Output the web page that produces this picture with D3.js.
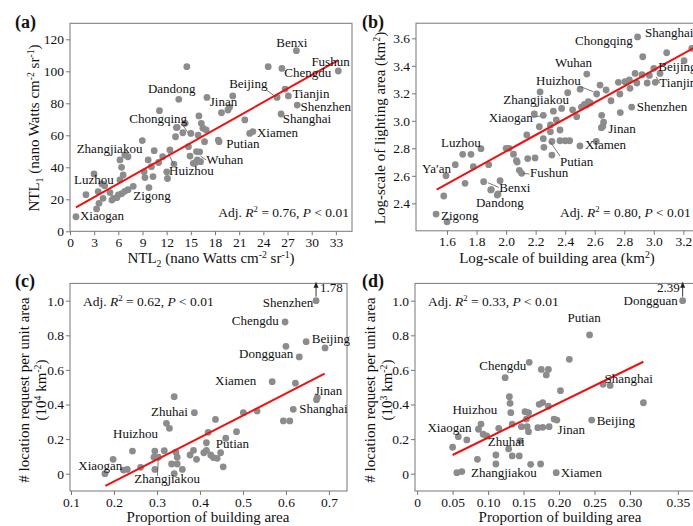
<!DOCTYPE html>
<html>
<head>
<meta charset="utf-8">
<script src="https://cdn.jsdelivr.net/npm/d3@7"></script>
<style>
  body { margin: 0; background: #fff; }
  svg text { font-family: "Liberation Serif", "Times New Roman", serif; fill: #111; }
</style>
</head>
<body>
<svg id="chart" width="693" height="526"></svg>
<script>
// ---------- (a) NTL2 vs NTL1 ----------
var ntl2 = [0.74,1.98,2.98,3.5,3.6,3.3,3.97,4.1,4.3,4.96,5.4,6.0,6.2,6.4,6.2,6.6,6.8,7.2,6.8,7.2,7.85,5.2,5.8,6.4,
  8.97,9.2,9.3,9.7,9.8,10.1,10.3,10.45,11.1,11.5,12.0,12.1,12.4,13.1,13.3,13.5,14.0,14.3,14.5,14.7,15.0,15.3,15.6,15.8,
  15.9,16.0,16.1,16.3,16.5,16.7,16.9,17.0,18.4,18.8,19.6,19.8,20.2,21.7,22.3,22.7,24.6,25.7,26.2,26.3,26.7,27.1,28.1,28.2,
  33.3,14.9,15.7,16.2,13.2,18.5,11.0,12.9];
var ntl1 = [9.1,22.9,35.8,24.8,17.5,14.0,29.6,20.6,28.4,24.2,20.6,22.7,32.1,40.0,44.6,35.2,47.7,46.6,25.0,26.0,28.1,19.5,21.0,23.5,
  56.7,37.2,33.6,44.6,27.3,40.4,34.2,50.4,75.4,46.6,37.2,33.0,50.8,59.1,65.0,82.5,61.6,67.5,102.9,52.9,61.2,42.5,43.0,44.6,
  60.1,72.1,49.7,67.5,64.4,56.0,63.3,83.7,57.0,74.1,75.8,77.5,84.6,69.6,61.2,62.3,102.9,83.7,73.3,101.8,88.9,84.6,112.9,78.9,
  100.2,47.0,49.8,43.5,64.8,56.0,43.0,42.0];
var fitA = [[0.74, 15], [33.3, 107]];
var labelsA = [["Benxi",25.6,115.4],["Fushun",29.96,103.3],["Chengdu",26.6,96.4],["Beijing",19.75,89.4],["Tianjin",27.6,83.5],
  ["Shenzhen",28.6,75.2],["Shanghai",26.4,67.9],["Xiamen",23.2,58.75],["Putian",19.4,51.9],["Wuhan",16.9,42.1],
  ["Huizhou",12.3,35.2],["Jinan",17.35,78.3],["Dandong",9.67,86.4],["Chongqing",7.35,67.5],["Zhangjiakou",0.83,49.1],
  ["Luzhou",0.5,29.6],["Zigong",7.85,19.6],["Xiaogan",1.24,7.1]];
var leadersA = [[24.4,88.3,25.5,84.1],[14.0,66.3,14.7,61.3],[12.9,41.4,12.2,48.7],[16.2,47.0,16.9,44.6]];
var xTicksA = d3.range(0, 34, 3);
var yTicksA = d3.range(0, 121, 20);

// ---------- (b) log building area vs log lighting area ----------
var buildB = [2.89,2.925,3.087,3.257,3.205,3.00,2.873,2.92,2.97,3.042,3.01,2.955,2.885,2.839,2.835,2.805,2.76,2.677,2.636,2.613,
  2.546,2.501,2.417,2.23,2.77,2.71,2.556,2.545,2.53,2.57,2.51,2.478,2.45,2.376,2.32,2.34,2.30,2.365,2.252,2.191,2.225,2.30,
  2.14,2.252,2.256,2.31,2.31,2.365,2.40,2.43,2.50,2.647,2.66,2.655,2.645,2.61,2.773,2.85,2.0,2.02,2.07,2.146,2.196,2.105,
  1.959,1.94,1.90,1.526,1.60,1.578,1.593,1.656,1.706,1.762,1.722,1.778,1.83,1.848,1.882,1.896,1.945,2.05,2.075,2.09];
var lightB = [3.61,3.466,3.495,3.527,3.437,3.382,3.345,3.335,3.33,3.345,3.28,3.275,3.275,3.236,3.297,3.285,3.28,3.224,3.26,3.195,
  3.34,3.23,3.204,3.21,3.195,3.146,3.14,3.115,3.12,3.13,3.10,3.03,3.08,3.09,3.07,3.006,2.97,2.933,3.04,3.05,2.957,2.92,
  2.897,2.87,2.807,2.85,2.751,2.855,2.855,2.855,2.817,3.04,2.99,2.96,2.95,2.85,3.06,3.10,2.8,2.8,2.71,2.725,2.73,2.618,
  2.564,2.46,2.5,2.322,2.266,2.453,2.6,2.681,2.756,2.756,2.545,2.666,2.797,2.557,2.681,2.497,2.468,2.757,2.70,2.64];
var fitB = [[1.53, 2.50], [3.27, 3.53]];
var labelsB = [["Shanghai",2.94,3.607],["Chongqing",2.467,3.551],["Wuhan",2.331,3.389],["Huizhou",2.203,3.26],["Beijing",3.03,3.364],
  ["Tianjin",3.037,3.244],["Zhangjiakou",1.981,3.122],["Xiaogan",1.882,2.993],["Shenzhen",2.884,3.073],["Jinan",2.692,2.913],
  ["Xiamen",2.534,2.793],["Putian",2.365,2.671],["Fushun",2.162,2.593],["Benxi",1.954,2.484],["Dandong",1.796,2.373],
  ["Luzhou",1.559,2.812],["Ya\u2032an",1.431,2.623],["Zigong",1.559,2.279]];
var leadersB = [[2.505,3.248,2.59,3.212],[3.015,3.32,3.042,3.273],[2.18,3.025,2.23,3.035],[2.365,2.744,2.297,2.848],
  [2.117,2.618,2.157,2.613],[1.876,2.55,1.95,2.516]];
var xTicksB = [1.6,1.8,2.0,2.2,2.4,2.6,2.8,3.0,3.2];
var yTicksB = [2.4,2.6,2.8,3.0,3.2,3.4,3.6];

// ---------- (c) proportion of building area vs location requests ----------
var propC = [0.179,0.198,0.222,0.231,0.262,0.243,0.295,0.293,0.303,0.295,0.317,0.322,0.329,0.34,0.334,0.344,0.347,0.359,0.347,0.34,
  0.377,0.385,0.392,0.387,0.415,0.419,0.409,0.415,0.425,0.431,0.436,0.44,0.448,0.454,0.46,0.485,0.501,0.533,0.568,0.594,
  0.609,0.617,0.622,0.67,0.598,0.647,0.691,0.60,0.631,0.671,0.673];
var reqC = [0.0,0.083,0.021,0.025,0.037,0.131,0.131,0.095,0.095,0.025,0.133,0.291,0.262,0.445,0.056,0.124,0.095,0.025,0.056,0.0,
  0.108,0.135,0.083,0.353,0.179,0.239,0.121,0.135,0.108,0.093,0.314,0.089,0.121,0.04,0.205,0.243,0.353,0.362,0.532,0.305,
  0.305,0.372,0.523,1.0,0.877,0.763,0.727,0.736,0.675,0.428,0.44];
var fitC = [[0.18, -0.07], [0.69, 0.578]];
var labelsC = [["Shenzhen",0.546,0.964],["Chengdu",0.474,0.861],["Beijing",0.66,0.755],["Dongguan",0.491,0.669],["Xiamen",0.435,0.514],
  ["Jinan",0.667,0.457],["Shanghai",0.631,0.351],["Putian",0.437,0.149],["Zhuhai",0.286,0.334],["Huizhou",0.198,0.205],
  ["Xiaogan",0.117,0.021],["Zhangjiakou",0.247,-0.052]];
var leadersC = [[0.301,-0.013,0.303,0.089]];
var outlierC = {x: 0.67, y: 1.0, text: "1.78"};
var xTicksC = [0.1,0.2,0.3,0.4,0.5,0.6,0.7];
var yTicksCD = [0,0.2,0.4,0.6,0.8,1.0];

// ---------- (d) proportion of building area vs location requests ----------
var propD = [0.243,0.2145,0.158,0.175,0.185,0.182,0.124,0.202,0.262,0.272,0.314,0.13,0.131,0.132,0.172,0.177,0.185,0.152,0.157,
  0.193,0.197,0.246,0.154,0.134,0.147,0.155,0.157,0.17,0.177,0.186,0.115,0.09,0.0864,0.093,0.098,0.058,0.07,0.05,0.129,0.145,
  0.085,0.111,0.111,0.134,0.144,0.056,0.063,0.16,0.174,0.196,0.355];
var reqD = [0.802,0.661,0.644,0.603,0.603,0.571,0.555,0.48,0.517,0.51,0.41,0.445,0.407,0.353,0.401,0.411,0.39,0.358,0.353,
  0.316,0.31,0.31,0.316,0.287,0.272,0.272,0.243,0.266,0.268,0.272,0.262,0.287,0.257,0.228,0.218,0.214,0.195,0.153,0.143,0.19,
  0.083,0.108,0.056,0.103,0.103,0.006,0.012,0.054,0.056,0.006,1.0];
var fitD = [[0.05, 0.108], [0.314, 0.647]];
var labelsD = [["Dongguan",0.291,0.975],["Putian",0.212,0.875],["Chengdu",0.0877,0.599],["Shanghai",0.264,0.526],["Huizhou",0.0497,0.345],
  ["Beijing",0.253,0.282],["Xiaogan",0.0145,0.241],["Jinan",0.198,0.229],["Zhuhai",0.0996,0.16],["Zhangjiakou",0.076,-0.017],
  ["Xiamen",0.2024,-0.017]];
var outlierD = {x: 0.355, y: 1.0, text: "2.39"};
var xTicksD = [0,0.05,0.10,0.15,0.20,0.25,0.30,0.35];

var svg = d3.select("#chart");
var dotColor = "#8c8c8c", lineColor = "#ee1111", frameColor = "#777";

// text with sub/superscripts: parts = [[text, shift(px, negative = up), italic]]
function rich(sel, parts, size) {
  var cur = 0;
  parts.forEach(function(p) {
    var shift = p[1] || 0;
    sel.append("tspan")
      .attr("dy", shift - cur)
      .style("font-size", shift ? (size * 0.65) + "px" : size + "px")
      .style("font-style", p[2] ? "italic" : null)
      .text(p[0]);
    cur = shift;
  });
}

function panel(o) {
  var g = svg.append("g");
  var x = d3.scaleLinear().domain(o.xDomain).range(o.xRange);
  var y = d3.scaleLinear().domain(o.yDomain).range(o.yRange);
  var x0 = o.xRange[0], x1 = o.xRange[o.xRange.length - 1];

  g.append("rect")
    .attr("x", x0).attr("y", o.yRange[1])
    .attr("width", x1 - x0).attr("height", o.yRange[0] - o.yRange[1])
    .attr("fill", "none").attr("stroke", frameColor).attr("stroke-width", 1);

  var xa = g.append("g").attr("transform", "translate(0," + o.yRange[0] + ")")
    .call(d3.axisBottom(x).tickValues(o.xTicks).tickFormat(o.xFmt).tickSize(4).tickPadding(2));
  var ya = g.append("g").attr("transform", "translate(" + x0 + ",0)")
    .call(d3.axisLeft(y).tickValues(o.yTicks).tickFormat(o.yFmt).tickSize(4).tickPadding(2));
  [xa, ya].forEach(function(a) {
    a.select(".domain").remove();
    a.selectAll(".tick line").attr("stroke", frameColor);
    a.selectAll(".tick text").style("font-size", "13.5px").attr("fill", "#111");
  });

  // points
  g.append("g").selectAll("circle")
    .data(o.xs.map(function(v, i) { return [v, o.ys[i]]; }))
    .enter().append("circle")
    .attr("cx", function(d) { return x(d[0]); })
    .attr("cy", function(d) { return y(d[1]); })
    .attr("r", 3.4)
    .attr("fill", dotColor);

  // fitted line
  g.append("path")
    .attr("d", d3.line().x(function(d) { return x(d[0]); }).y(function(d) { return y(d[1]); })(o.fit))
    .attr("stroke", lineColor).attr("stroke-width", 2).attr("fill", "none");

  // leader lines
  g.append("g").selectAll("line").data(o.leaders || []).enter().append("line")
    .attr("x1", function(d) { return x(d[0]); }).attr("y1", function(d) { return y(d[1]); })
    .attr("x2", function(d) { return x(d[2]); }).attr("y2", function(d) { return y(d[3]); })
    .attr("stroke", "#555").attr("stroke-width", 0.8);

  // city labels
  g.append("g").selectAll("text").data(o.labels).enter().append("text")
    .attr("x", function(d) { return x(d[1]); })
    .attr("y", function(d) { return y(d[2]); })
    .style("font-size", "13px")
    .text(function(d) { return d[0]; });

  // outlier arrow
  if (o.outlier) {
    var ox = x(o.outlier.x), oy = y(o.outlier.y);
    g.append("line").attr("x1", ox).attr("x2", ox).attr("y1", oy - 4).attr("y2", oy - 16)
      .attr("stroke", "#222").attr("stroke-width", 0.9);
    g.append("path").attr("d", "M" + (ox - 2.5) + "," + (oy - 13) + "L" + ox + "," + (oy - 19) + "L" + (ox + 2.5) + "," + (oy - 13) + "Z")
      .attr("fill", "#222");
    g.append("text")
      .attr("x", o.outlier.left ? ox - 3 : ox + 4)
      .attr("y", oy - 9)
      .attr("text-anchor", o.outlier.left ? "end" : "start")
      .style("font-size", "13px")
      .text(o.outlier.text);
  }

  // statistics
  var st = g.append("text")
    .attr("x", o.statAnchor === "end" ? x1 - 3 : x0 + 13)
    .attr("y", o.statY)
    .attr("text-anchor", o.statAnchor || "start");
  rich(st, [["Adj. "], ["R", 0, true], ["2", -5], [" = " + o.r2 + ", "], ["P", 0, true], [" < 0.01"]], 13.5);

  // panel tag
  g.append("text").attr("x", o.tagX).attr("y", o.tagY)
    .style("font-size", "18px").style("font-weight", "bold").text(o.tag);

  // axis titles
  var xt = g.append("text").attr("x", o.xTitleX).attr("y", o.xTitleY).attr("text-anchor", "middle");
  rich(xt, o.xTitle, 15);
  o.yTitle.forEach(function(line, i) {
    var yt = g.append("text")
      .attr("transform", "translate(" + o.yTitleX[i] + "," + o.yTitleY + ") rotate(-90)")
      .attr("text-anchor", "middle");
    rich(yt, line, 15);
  });
}

var f1 = d3.format(".1f"), f2 = d3.format(".2f");
function fZero(fmt) { return function(d) { return d === 0 ? "0" : fmt(d); }; }

panel({
  xs: ntl2, ys: ntl1, fit: fitA, labels: labelsA, leaders: leadersA,
  xDomain: [0, 35], xRange: [70, 352], yDomain: [0, 130], yRange: [231.3, 23.3],
  xTicks: xTicksA, yTicks: yTicksA, xFmt: d3.format("d"), yFmt: d3.format("d"),
  r2: "0.76", statY: 217, statAnchor: "end",
  tag: "(a)", tagX: 15, tagY: 28,
  xTitle: [["NTL"], ["2", 4], [" (nano Watts cm"], ["-2", -5], [" sr"], ["-1", -5], [")"]], xTitleX: 211, xTitleY: 263,
  yTitle: [[["NTL"], ["1", 4], [" (nano Watts cm"], ["-2", -5], [" sr"], ["-1", -5], [")"]]], yTitleX: [39], yTitleY: 128
});

panel({
  xs: buildB, ys: lightB, fit: fitB, labels: labelsB, leaders: leadersB,
  xDomain: [1.39, 3.27], xRange: [416, 693.7], yDomain: [2.2, 3.71], yRange: [230.8, 23.2],
  xTicks: xTicksB, yTicks: yTicksB, xFmt: f1, yFmt: f1,
  r2: "0.80", statY: 217, statAnchor: "end",
  tag: "(b)", tagX: 362, tagY: 28,
  xTitle: [["Log-scale of building area (km"], ["2", -5], [")"]], xTitleX: 557, xTitleY: 263,
  yTitle: [[["Log-scale of lighting area (km"], ["2", -5], [")"]]], yTitleX: [385], yTitleY: 128
});

panel({
  xs: propC, ys: reqC, fit: fitC, labels: labelsC, leaders: leadersC, outlier: outlierC,
  xDomain: [0.0977, 0.742], xRange: [70, 347], yDomain: [-0.1, 1.1], yRange: [491, 283.4],
  xTicks: xTicksC, yTicks: yTicksCD, xFmt: f1, yFmt: fZero(f1),
  r2: "0.62", statY: 306,
  tag: "(c)", tagX: 15, tagY: 287,
  xTitle: [["Proportion of building area"]], xTitleX: 208, xTitleY: 522,
  yTitle: [[["# location request per unit area"]], [["(10"], ["4", -5], [" km"], ["-2", -5], [")"]]],
  yTitleX: [29, 46], yTitleY: 390
});

// x axis of (d) is stretched beyond 0.30 as in the source figure
panel({
  xs: propD, ys: reqD, fit: fitD, labels: labelsD, outlier: Object.assign({left: true}, outlierD),
  xDomain: [-0.003, 0.30, 0.37], xRange: [415, 630, 697], yDomain: [-0.1, 1.1], yRange: [491, 283.4],
  xTicks: xTicksD, yTicks: yTicksCD, xFmt: fZero(f2), yFmt: fZero(f1),
  r2: "0.33", statY: 306,
  tag: "(d)", tagX: 362, tagY: 287,
  xTitle: [["Proportion of building area"]], xTitleX: 560, xTitleY: 522,
  yTitle: [[["# location request per unit area"]], [["(10"], ["3", -5], [" km"], ["-2", -5], [")"]]],
  yTitleX: [375, 392], yTitleY: 390
});
</script>
</body>
</html>
